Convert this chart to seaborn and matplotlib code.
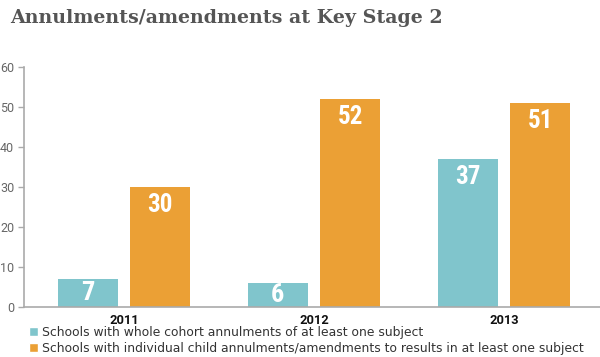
import pandas as pd
import matplotlib.pyplot as plt
import seaborn as sns
from matplotlib.patches import Patch
from matplotlib import font_manager

sns.set_style("white")

years = ["2011", "2012", "2013"]
whole_cohort = [7, 6, 37]
individual_child = [30, 52, 51]
series_names = ["Schools with whole cohort annulments of at least one subject",
                "Schools with individual child annulments/amendments to results in at least one subject"]
y_ticks = [0, 10, 20, 30, 40, 50, 60]

teal = "#80c5cc"
orange = "#eba035"

# pick a condensed face if there is one
names = sorted({f.name for f in font_manager.fontManager.ttflist})
narrow = None
for cand in ["Liberation Sans Narrow", "DejaVu Sans Condensed", "Roboto Condensed",
             "Open Sans Condensed", "Noto Sans Condensed"]:
    if cand in names:
        narrow = cand
        break
if narrow is None:
    cond = [n for n in names if "Condensed" in n or "Narrow" in n]
    narrow = cond[0] if cond else "DejaVu Sans"

df = pd.DataFrame({
    "year": years * 2,
    "value": whole_cohort + individual_child,
    "series": [series_names[0]] * 3 + [series_names[1]] * 3,
})

fig = plt.figure(figsize=(6, 3.57), dpi=100)
ax = fig.add_axes([24 / 600, 1 - 307 / 357, 576 / 600, 240 / 357])

sns.barplot(data=df, x="year", y="value", hue="series", order=years,
            hue_order=series_names, palette=[teal, orange], width=0.76, gap=0.17,
            saturation=1, ax=ax, legend=False, edgecolor="none")

ax.set_ylim(0, 60)
ax.set_xlim(-0.526, 2.505)
ax.set_yticks(y_ticks)
ax.set_xlabel("")
ax.set_ylabel("")
sns.despine(ax=ax)
for s in ["left", "bottom"]:
    ax.spines[s].set_color("#aaaaaa")
    ax.spines[s].set_linewidth(1.2)
ax.tick_params(axis="y", direction="out", length=4.5, width=1, color="#aaaaaa",
               labelsize=9, labelcolor="#666666", pad=2.5, left=True)
for lbl in ax.get_yticklabels():
    lbl.set_family("Roboto")
ax.tick_params(axis="x", length=0, pad=5)
for lbl in ax.get_xticklabels():
    lbl.set_family("Roboto")
    lbl.set_fontweight("bold")
    lbl.set_fontsize(9.3)
    lbl.set_color("#111111")

# value labels inside bars
for container in ax.containers:
    for bar in container:
        h = bar.get_height()
        cx = bar.get_x() + bar.get_width() / 2
        if h >= 15:
            ax.text(cx, h - 1.4, f"{h:.0f}", ha="center", va="top", color="white",
                    fontsize=18, fontweight="bold", family=narrow)
        else:
            ax.text(cx, h / 2, f"{h:.0f}", ha="center", va="center", color="white",
                    fontsize=19, fontweight="bold", family=narrow)

fig.text(10 / 600, 1 - 23 / 357, "Annulments/amendments at Key Stage 2",
         family="DejaVu Serif", fontweight="bold", fontsize=13.7, color="#555555",
         va="baseline", ha="left")

handles = [Patch(facecolor=teal), Patch(facecolor=orange)]
fig.legend(handles, series_names, loc="upper left", bbox_to_anchor=(29 / 600, 1 - 326 / 357),
           frameon=False, fontsize=8.95, handlelength=0.75, handleheight=0.75,
           handletextpad=0.3, labelspacing=0.25, borderpad=0, borderaxespad=0,
           labelcolor="#333333")

fig.savefig("out.png", dpi=100)
